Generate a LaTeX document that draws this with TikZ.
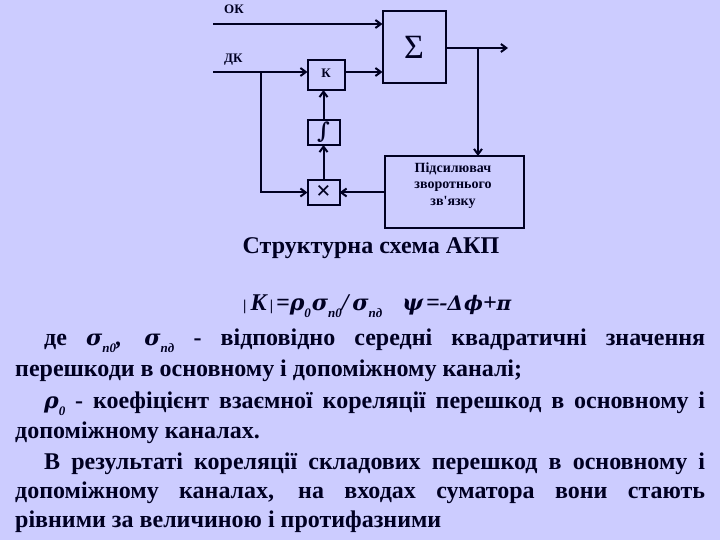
\documentclass[tikz,border=0pt]{standalone}
\usepackage{fontspec}
\setmainfont{Liberation Serif}
\newfontfamily\plainfont{Liberation Serif}
\newfontfamily\grkfont{DejaVu Serif}
\usetikzlibrary{positioning, arrows.meta, calc}
\definecolor{bgblue}{HTML}{CCCCFF}
\definecolor{inkdark}{HTML}{000022}
\newcommand{\lowidx}[1]{\raisebox{-0.3em}{\fontsize{13}{13}\selectfont\bfseries\itshape #1}}
\newcommand{\grk}[1]{{\grkfont\fontsize{22}{22}\selectfont\bfseries\itshape #1}}
\newcommand{\grks}[1]{{\grkfont\fontsize{20}{20}\selectfont\bfseries\itshape #1}}
\tikzset{
  blk/.style={draw=inkdark, line width=2pt, inner sep=0pt, outer sep=0pt, align=center, text=inkdark},
  arr/.style={-{Straight Barb[length=1.9mm, width=2.8mm]}, line width=2pt, draw=inkdark},
  lne/.style={line width=2pt, draw=inkdark},
  lbl/.style={font=\fontsize{13}{13}\selectfont\bfseries, text=inkdark, inner sep=0pt, align=center},
  txt/.style={anchor=base west, inner sep=0pt, text=inkdark, font=\fontsize{24}{24}\selectfont\bfseries}
}
\begin{document}
\begin{tikzpicture}[x=1pt, y=1pt]
\fill[bgblue] (0,0) rectangle (720,-540);
\useasboundingbox (0,0) rectangle (720,-540);
% scheme
\node[blk, minimum width=63pt, minimum height=72pt, font=\fontsize{34}{34}\selectfont, anchor=north west] (sum) at (382.5,-11) {Σ};
\node[blk, minimum width=37pt, minimum height=30pt, font=\fontsize{13}{13}\selectfont\bfseries, left=38pt of sum, yshift=-28pt] (k) {\raisebox{3pt}{К}};
\node[blk, minimum width=32pt, minimum height=25pt, font=\fontsize{15}{15}\selectfont, below=30pt of k.south west, anchor=north west] (int) {\grk{∫}};
\node[blk, minimum width=32pt, minimum height=25pt, font=\fontsize{26}{26}\selectfont\bfseries, below=35pt of int] (mul) {×};
\node[blk, minimum width=139pt, minimum height=72pt, anchor=north west] (amp) at (385,-156) {};
\node[lbl, font=\plainfont\fontsize{14}{16.5}\selectfont\bfseries, anchor=north] (amptext) at (453,-162.5) {Підсилювач\\зворотнього\\зв'язку};
\node[lbl, anchor=base west] (oklbl) at (224,-14) {ОК};
\node[lbl, anchor=base west] (dklbl) at (224,-63) {ДК};
\coordinate (okin) at (213,-24);
\coordinate (dkin) at (213,-72);
\coordinate (dksplit) at (261,-72);
\coordinate (outend) at (508,-48);
\coordinate (outsplit) at (478,-48);
\draw[arr] (okin) -- (okin -| sum.west);
\draw[arr] (dkin) -- (dkin -| k.west);
\draw[arr] (k.east |- dkin) -- (dkin -| sum.west);
\draw[lne] (sum.east |- outend) -- (outsplit);
\draw[arr] (outsplit) -- (outend);
\draw[arr] (outsplit) -- (outsplit |- amp.north);
\draw[arr] (dksplit) |- (mul.west);
\draw[arr] (amp.west |- mul) -- (mul.east);
\draw[arr] (mul.north -| int) -- (int.south);
\draw[arr] (int.north) -- (int.north |- k.south);
% text
\node[txt, anchor=base] (title) at (371,-253) {Структурна схема АКП};
\node[txt, anchor=base west] (formula) at (243,-310) {{\fontsize{15}{15}\selectfont |\hspace{4pt}}\textit{K}{\fontsize{15}{15}\selectfont\hspace{2pt}|\hspace{3pt}}\textit{=}\grk{ρ}\lowidx{0}\hspace{1pt}\grk{σ}\lowidx{п0}\textit{/}\hspace{2pt}\grk{σ}\lowidx{пд}\hspace{20pt}\grk{ψ}\hspace{3pt}\textit{=-}\grks{Δ}\hspace{1pt}\grks{ϕ}\textit{+}\grks{π}};
\node[txt] (l1) at (44,-345) {\makebox[661pt][s]{де \grk{σ}\lowidx{п0}\textit{,} \grk{σ}\lowidx{пд} - відповідно середні квадратичні значення}};
\node[txt] (l2) at (15,-376) {перешкоди в основному і допоміжному каналі;};
\node[txt] (l3) at (44,-408) {\makebox[661pt][s]{\grk{ρ}\lowidx{0} - коефіцієнт взаємної кореляції перешкод в основному і}};
\node[txt] (l4) at (15,-438) {допоміжному каналах.};
\node[txt] (l5) at (44,-469) {\makebox[661pt][s]{В результаті кореляції складових перешкод в основному і}};
\node[txt] (l6) at (15,-498) {\makebox[690pt][s]{допоміжному каналах, на входах суматора вони стають}};
\node[txt] (l7) at (15,-527) {рівними за величиною і протифазними};
\end{tikzpicture}
\end{document}
